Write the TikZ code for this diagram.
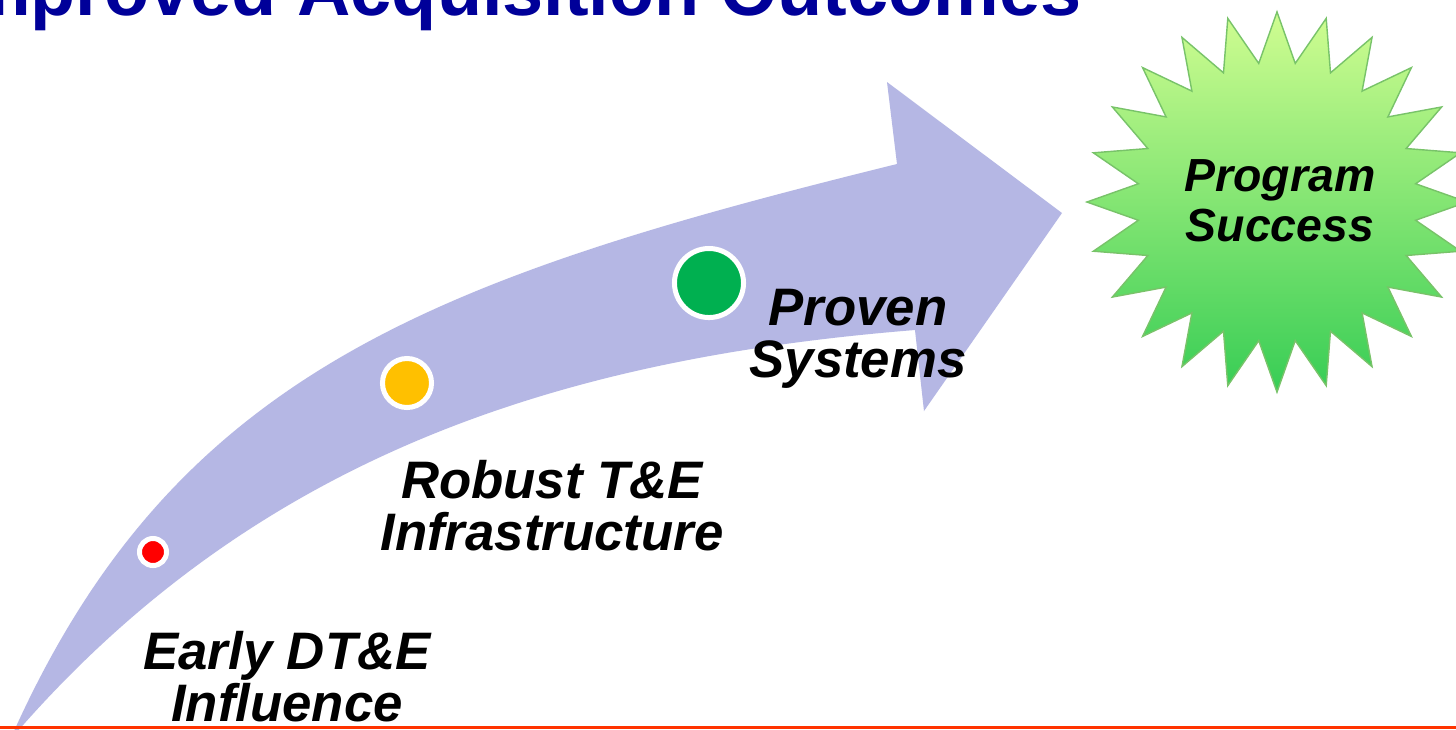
\documentclass[tikz,border=0pt]{standalone}
\usepackage{fontspec}
\setmainfont{Liberation Sans}
\usetikzlibrary{shapes.geometric}
\definecolor{lav}{RGB}{181,183,228}
\definecolor{titleblue}{RGB}{0,0,153}
\definecolor{redline}{RGB}{255,51,0}
\definecolor{dotred}{RGB}{255,0,0}
\definecolor{dotyellow}{RGB}{255,192,0}
\definecolor{dotgreen}{RGB}{0,176,80}
\definecolor{startop}{RGB}{208,253,145}
\definecolor{starbot}{RGB}{55,205,85}
\definecolor{staredge}{RGB}{120,195,105}
\tikzset{
  lbl/.style={font=\fontsize{15}{14.8}\selectfont\bfseries\itshape, align=center, inner sep=0pt, text=black},
  dot/.style={circle, draw=white, line width=0.05cm, inner sep=0pt},
}
\begin{document}
\begin{tikzpicture}[x=0.01cm,y=-0.01cm]
\useasboundingbox (0,0) rectangle (1456,729);
\clip (0,0) rectangle (1456,729);
\fill[white] (0,0) rectangle (1456,729);
% curved arrow
\fill[lav] (10,740) .. controls (172,374) and (431,279) .. (897,164)
  -- (887,82) -- (1062,213) -- (924,411) -- (915,330)
  .. controls (567,358) and (257,452) .. (10,740) -- cycle;
% milestone dots
\node[dot, fill=dotred, minimum size=0.27cm] (d1) at (153,552) {};
\node[dot, fill=dotyellow, minimum size=0.49cm] (d2) at (407,383) {};
\node[dot, fill=dotgreen, minimum size=0.69cm] (d3) at (709,283) {};
% labels
\node[lbl] (t1) at (287,677) {Early DT\&E\\Influence};
\node[lbl] (t2) at (552,506) {Robust T\&E\\Infrastructure};
\node[lbl] (t3) at (858,339) {Proven\\Systems};
% starburst
\node[star, star points=24, star point ratio=1.36, minimum size=3.8cm, inner sep=0pt,
      top color=startop, bottom color=starbot, draw=staredge, line width=0.4pt] (star) at (1277,202) {};
\node[lbl, font=\fontsize{13.2}{14.2}\selectfont\bfseries\itshape] (ps) at (1280,201) {Program\\Success};
% title
\node[anchor=base east, inner sep=0pt, text=titleblue, font=\fontsize{21}{24}\selectfont\bfseries] (title) at (1082,15) {Improved Acquisition Outcomes};
% bottom rule
\coordinate (l0) at (0,727.5);
\coordinate (l1) at (1456,727.5);
\draw[redline, line width=0.03cm] (l0) -- (l1);
\end{tikzpicture}
\end{document}
